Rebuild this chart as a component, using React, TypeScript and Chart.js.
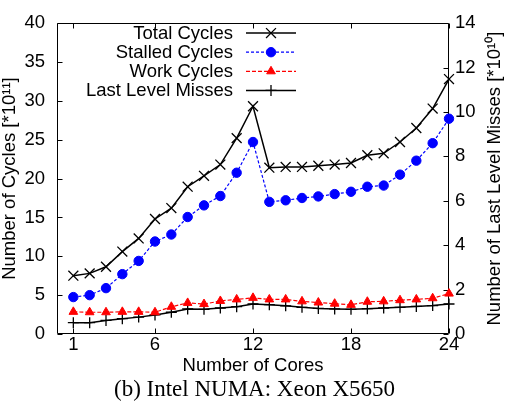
import React, { useEffect, useRef } from 'react';
import { Chart, registerables } from 'chart.js';
import { drawPoint } from 'chart.js/helpers';

Chart.register(...registerables);

const cores = [1, 2, 3, 4, 5, 6, 7, 8, 9, 10, 11, 12, 13, 14, 15, 16, 17, 18, 19, 20, 21, 22, 23, 24];
const totalCycles = [7.5, 7.8, 8.65, 10.6, 12.3, 14.8, 16.2, 18.95, 20.35, 21.8, 25.2, 29.3, 21.4, 21.5, 21.5, 21.65, 21.8, 22.0, 23.0, 23.25, 24.7, 26.5, 29.0, 32.8];
const stalledCycles = [4.75, 5.0, 5.9, 7.7, 9.4, 11.9, 12.8, 15.05, 16.55, 17.75, 20.75, 24.7, 17.0, 17.2, 17.5, 17.7, 18.0, 18.3, 18.95, 19.1, 20.5, 22.3, 24.55, 27.7];
const workCycles = [2.85, 2.8, 2.8, 2.85, 2.85, 2.8, 3.5, 4.0, 3.85, 4.25, 4.45, 4.65, 4.45, 4.45, 4.2, 4.05, 3.9, 3.75, 4.15, 4.2, 4.35, 4.45, 4.6, 5.2];
const lastLevelMisses = [0.51, 0.51, 0.61, 0.69, 0.76, 0.86, 0.98, 1.13, 1.11, 1.17, 1.23, 1.35, 1.32, 1.27, 1.2, 1.15, 1.13, 1.11, 1.14, 1.17, 1.2, 1.24, 1.28, 1.35];

const xTickValues = [1, 6, 12, 18, 24];
const seriesLabels = ['Total Cycles', 'Stalled Cycles', 'Work Cycles', 'Last Level Misses'];
const xTitle = 'Number of Cores';
const leftTitle = 'Number of Cycles [*10\u00B9\u00B9]';
const rightTitle = 'Number of Last Level Misses [*10\u00B9\u2070]';
const caption = '(b) Intel NUMA: Xeon X5650';

const SANS = '"Liberation Sans", Arial, sans-serif';
const SERIF = '"Liberation Serif", serif';
const FS = 18.5;

const toPoints = (ys: number[]) => ys.map((y, i) => ({ x: cores[i], y }));

const framePlugin = {
  id: 'gnuFrame',
  beforeDatasetsDraw(chart: any) {
    const { ctx, chartArea: a, scales } = chart;
    const L = Math.round(a.left) + 0.5;
    const R = Math.round(a.right) - 0.5;
    const T = Math.round(a.top) + 0.5;
    const B = Math.round(a.bottom) - 0.5;
    const tl = 5;
    ctx.save();
    ctx.strokeStyle = '#000';
    ctx.lineWidth = 1;
    ctx.beginPath();
    ctx.rect(L, T, R - L, B - T);
    scales.x.ticks.forEach((t: any) => {
      const px = Math.round(scales.x.getPixelForValue(t.value)) + 0.5;
      ctx.moveTo(px, B); ctx.lineTo(px, B - tl);
      ctx.moveTo(px, T); ctx.lineTo(px, T + tl);
    });
    scales.y.ticks.forEach((t: any) => {
      const py = Math.round(scales.y.getPixelForValue(t.value)) + 0.5;
      ctx.moveTo(L, py); ctx.lineTo(L + tl, py);
    });
    scales.y2.ticks.forEach((t: any) => {
      const py = Math.round(scales.y2.getPixelForValue(t.value)) + 0.5;
      ctx.moveTo(R, py); ctx.lineTo(R - tl, py);
    });
    ctx.stroke();
    ctx.restore();
  },
  afterDatasetsDraw(chart: any) {
    const { ctx, chartArea: a } = chart;
    ctx.save();
    ctx.font = FS + 'px ' + SANS;
    ctx.textAlign = 'right';
    ctx.textBaseline = 'middle';
    chart.data.datasets.forEach((ds: any, i: number) => {
      const y = a.top + 10 + i * 19.1;
      ctx.fillStyle = '#000';
      ctx.fillText(ds.label, a.left + 176, y + 1);
      ctx.strokeStyle = ds.borderColor;
      ctx.lineWidth = ds.borderWidth;
      ctx.setLineDash(ds.borderDash || []);
      ctx.beginPath();
      ctx.moveTo(a.left + 189, y);
      ctx.lineTo(a.left + 239, y);
      ctx.stroke();
      ctx.setLineDash([]);
      ctx.fillStyle = ds.pointBackgroundColor;
      ctx.strokeStyle = ds.pointBorderColor;
      ctx.lineWidth = ds.pointBorderWidth;
      drawPoint(ctx, { pointStyle: ds.pointStyle, radius: ds.pointRadius, rotation: 0, borderWidth: ds.pointBorderWidth }, a.left + 214, y);
    });
    ctx.restore();
  },
  afterDraw(chart: any) {
    const { ctx, chartArea: a } = chart;
    ctx.save();
    ctx.font = FS + 'px ' + SANS;
    ctx.fillStyle = '#000';
    ctx.textAlign = 'center';
    ctx.textBaseline = 'middle';
    ctx.translate(chart.width - 14, (a.top + a.bottom) / 2);
    ctx.rotate(-Math.PI / 2);
    ctx.fillText(rightTitle, 0, 0);
    ctx.restore();
  },
};

export default function App() {
  const canvasRef = useRef<HTMLCanvasElement | null>(null);

  useEffect(() => {
    if (!canvasRef.current) return;
    Chart.defaults.color = '#000';
    const chart = new Chart(canvasRef.current, {
      type: 'line',
      data: {
        datasets: [
          {
            label: seriesLabels[0],
            data: toPoints(totalCycles),
            yAxisID: 'y',
            borderColor: '#000000',
            borderWidth: 1.5,
            pointStyle: 'crossRot',
            pointRadius: 7,
            pointBorderColor: '#000000',
            pointBackgroundColor: '#000000',
            pointBorderWidth: 1.3,
            clip: false,
          },
          {
            label: seriesLabels[1],
            data: toPoints(stalledCycles),
            yAxisID: 'y',
            borderColor: '#0000ff',
            borderWidth: 1.2,
            borderDash: [3, 2],
            pointStyle: 'circle',
            pointRadius: 4.7,
            pointBorderColor: '#0000ff',
            pointBackgroundColor: '#0000ff',
            pointBorderWidth: 1,
            clip: false,
          },
          {
            label: seriesLabels[2],
            data: toPoints(workCycles),
            yAxisID: 'y',
            borderColor: '#ff0000',
            borderWidth: 1.2,
            borderDash: [4, 2],
            pointStyle: 'triangle',
            pointRadius: 5,
            pointBorderColor: '#ff0000',
            pointBackgroundColor: '#ff0000',
            pointBorderWidth: 1,
            clip: false,
          },
          {
            label: seriesLabels[3],
            data: toPoints(lastLevelMisses),
            yAxisID: 'y2',
            borderColor: '#000000',
            borderWidth: 1.5,
            pointStyle: 'cross',
            pointRadius: 5.5,
            pointBorderColor: '#000000',
            pointBackgroundColor: '#000000',
            pointBorderWidth: 1.3,
            clip: false,
          },
        ] as any,
      },
      options: {
        responsive: false,
        animation: false,
        layout: { padding: { top: 15, left: 0, right: 0, bottom: 0 } },
        plugins: {
          legend: { display: false },
          tooltip: { enabled: false },
          title: {
            display: true,
            position: 'bottom',
            text: caption,
            color: '#000',
            font: { family: SERIF, size: 23, weight: 'normal' as any, lineHeight: 1.2 },
            padding: { top: 0, bottom: 0.5 },
          },
        },
        scales: {
          x: {
            type: 'linear',
            min: 0,
            max: 24,
            grid: { display: false, drawTicks: false },
            border: { display: false },
            afterBuildTicks: (s: any) => { s.ticks = xTickValues.map((v) => ({ value: v })); },
            afterFit: (s: any) => { s.height = 41.9; },
            ticks: { font: { family: SANS, size: FS }, color: '#000', padding: 0, maxRotation: 0, autoSkip: false },
            title: { display: true, text: xTitle, color: '#000', font: { family: SANS, size: FS, lineHeight: 1.0 }, padding: { top: 0, bottom: 0.5 } },
          },
          y: {
            type: 'linear',
            position: 'left',
            min: 0,
            max: 40,
            grid: { display: false, drawTicks: false },
            border: { display: false },
            afterFit: (s: any) => { s.width = 57; },
            ticks: { stepSize: 5, font: { family: SANS, size: FS }, color: '#000', padding: 12 },
            title: { display: true, text: leftTitle, color: '#000', font: { family: SANS, size: FS, lineHeight: 1.0 }, padding: { top: 1, bottom: 0 } },
          },
          y2: {
            type: 'linear',
            position: 'right',
            min: 0,
            max: 14,
            grid: { display: false, drawTicks: false },
            border: { display: false },
            afterFit: (s: any) => { s.width = 60; },
            ticks: { stepSize: 2, font: { family: SANS, size: FS }, color: '#000', padding: 6 },
          },
        },
      } as any,
      plugins: [framePlugin],
    });
    return () => chart.destroy();
  }, []);

  return (
    <div style={{ position: 'absolute', left: 0, top: 0, width: 509, height: 404, background: '#fff' }}>
      <canvas ref={canvasRef} width={509} height={404} style={{ display: 'block' }} />
    </div>
  );
}
